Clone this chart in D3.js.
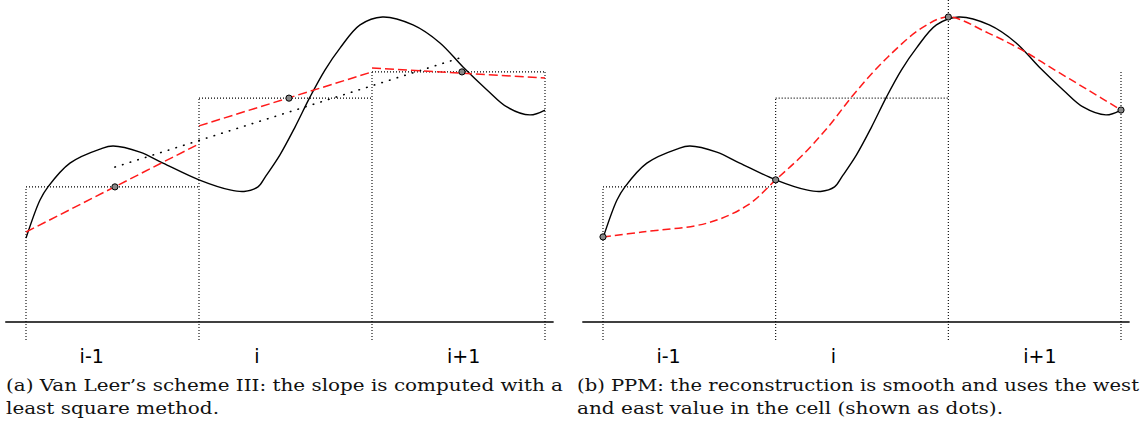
<!DOCTYPE html>
<html>
<head>
<meta charset="utf-8">
<script src="https://cdn.jsdelivr.net/npm/d3@7"></script>
<style>
  html, body { margin: 0; padding: 0; background: #fff; }
  svg { display: block; }
</style>
</head>
<body>
<svg id="chart" width="1147" height="429"></svg>
<script>
// ---------------- data ----------------
const cellLabels = ["i-1", "i", "i+1"];
const cellLabelPos = [0.38, 1.335, 2.53];          // label centres in cell units
const cellBounds = [0, 1, 2, 3];
const cellAverages = [0.443, 0.734, 0.820];

// the "true" solution (black solid curve)
const exactX = [0, 0.081, 0.127, 0.254, 0.428, 0.503, 0.659, 0.792, 1.0, 1.179, 1.260, 1.341, 1.387, 1.468, 1.555, 1.642, 1.728, 1.815, 1.931, 2.060, 2.237, 2.393, 2.526, 2.665, 2.780, 2.913, 3.0];
const exactY = [0.275, 0.400, 0.443, 0.521, 0.567, 0.577, 0.557, 0.521, 0.466, 0.433, 0.428, 0.443, 0.479, 0.548, 0.639, 0.738, 0.826, 0.898, 0.974, 1.0, 0.974, 0.915, 0.836, 0.761, 0.705, 0.679, 0.695];

// Van Leer III: linear reconstruction per cell (west / east values)
const vlWest = [0.295, 0.643, 0.833];
const vlEast = [0.584, 0.820, 0.800];
const vlDotX = [0.514, 1.520, 2.520];
const vlDotY = [0.443, 0.734, 0.820];
// least-square fit (black dotted)
const lsqX = [0.514, 2.526];
const lsqY = [0.508, 0.869];

// PPM reconstruction (red dashed, smooth)
const ppmX = [0, 0.226, 0.608, 0.840, 1.0, 1.152, 1.303, 1.459, 1.650, 1.847, 2.0, 2.229, 2.426, 2.617, 2.808, 3.0];
const ppmY = [0.279, 0.295, 0.325, 0.384, 0.466, 0.545, 0.639, 0.751, 0.869, 0.964, 1.0, 0.948, 0.892, 0.826, 0.761, 0.695];
const ppmDotX = [0, 1, 2, 3];
const ppmDotY = [0.279, 0.466, 1.0, 0.695];

const captionA = ["(a) Van Leer\u2019s scheme III: the slope is computed with a", "least square method."];
const captionB = ["(b) PPM: the reconstruction is smooth and uses the west", "and east value in the cell (shown as dots)."];

// ---------------- drawing ----------------
const svg = d3.select("#chart");
const y = d3.scaleLinear().domain([0, 1]).range([322, 17]);
const yBottom = -0.059, yTopExt = 1.06;
const axisExtent = [-0.12, 3.05];

const panels = [
  { x: d3.scaleLinear().domain([0, 3]).range([26, 545]), kind: "vl" },
  { x: d3.scaleLinear().domain([0, 3]).range([603, 1121]), kind: "ppm" }
];

const dotted = { stroke: "#000", width: 1.1, dash: "1,2" };
const line = d3.line().curve(d3.curveCatmullRom.alpha(0.5));

panels.forEach(p => {
  const g = svg.append("g");
  const x = p.x;

  // cell boxes (dotted)
  const vTops = cellBounds.map((b, k) => {
    if (p.kind === "ppm" && k === 2) return yTopExt;
    const left = k > 0 ? cellAverages[k - 1] : -Infinity;
    const right = k < cellAverages.length ? cellAverages[k] : -Infinity;
    return Math.max(left, right);
  });
  g.selectAll(".vb").data(cellBounds).enter().append("line")
    .attr("x1", d => x(d)).attr("x2", d => x(d))
    .attr("y1", y(yBottom)).attr("y2", (d, k) => y(vTops[k]))
    .attr("stroke", dotted.stroke).attr("stroke-width", dotted.width)
    .attr("stroke-dasharray", dotted.dash);
  const nTops = p.kind === "ppm" ? 2 : 3;
  g.selectAll(".hb").data(cellAverages.slice(0, nTops)).enter().append("line")
    .attr("x1", (d, k) => x(cellBounds[k])).attr("x2", (d, k) => x(cellBounds[k + 1]))
    .attr("y1", d => y(d)).attr("y2", d => y(d))
    .attr("stroke", dotted.stroke).attr("stroke-width", dotted.width)
    .attr("stroke-dasharray", dotted.dash);

  // axis line
  g.append("line")
    .attr("x1", x(axisExtent[0])).attr("x2", x(axisExtent[1]))
    .attr("y1", y(0)).attr("y2", y(0))
    .attr("stroke", "#000").attr("stroke-width", 1.5);

  // exact solution
  g.append("path")
    .attr("d", line(exactX.map((v, k) => [x(v), y(exactY[k])])))
    .attr("fill", "none").attr("stroke", "#000").attr("stroke-width", 1.4);

  if (p.kind === "vl") {
    g.append("line")
      .attr("x1", x(lsqX[0])).attr("y1", y(lsqY[0]))
      .attr("x2", x(lsqX[1])).attr("y2", y(lsqY[1]))
      .attr("stroke", "#000").attr("stroke-width", 1.6)
      .attr("stroke-linecap", "round")
      .attr("stroke-dasharray", "0.5,7.5");
    g.selectAll(".seg").data(vlWest).enter().append("line")
      .attr("x1", (d, k) => x(cellBounds[k])).attr("y1", d => y(d))
      .attr("x2", (d, k) => x(cellBounds[k + 1])).attr("y2", (d, k) => y(vlEast[k]))
      .attr("stroke", "#ff1a1a").attr("stroke-width", 1.5)
      .attr("stroke-dasharray", "9,4");
    g.selectAll(".dot").data(vlDotX).enter().append("circle")
      .attr("cx", d => x(d)).attr("cy", (d, k) => y(vlDotY[k]))
      .attr("r", 3.1).attr("fill", "#888").attr("stroke", "#000").attr("stroke-width", 1);
  } else {
    g.append("path")
      .attr("d", line(ppmX.map((v, k) => [x(v), y(ppmY[k])])))
      .attr("fill", "none").attr("stroke", "#ff1a1a").attr("stroke-width", 1.5)
      .attr("stroke-dasharray", "8,4");
    g.selectAll(".dot").data(ppmDotX).enter().append("circle")
      .attr("cx", d => x(d)).attr("cy", (d, k) => y(ppmDotY[k]))
      .attr("r", 3.1).attr("fill", "#888").attr("stroke", "#000").attr("stroke-width", 1);
  }

  // cell labels
  g.selectAll(".lab").data(cellLabels).enter().append("text")
    .attr("x", (d, k) => x(cellLabelPos[k])).attr("y", 363)
    .attr("text-anchor", "middle")
    .attr("font-family", "DejaVu Sans, sans-serif").attr("font-size", 19)
    .attr("fill", "#000")
    .text(d => d);
});

// captions
const capSpec = [
  { lines: captionA, x: 6, widths: [557, 213] },
  { lines: captionB, x: 577, widths: [562, 426] }
];
capSpec.forEach(c => {
  c.lines.forEach((t, k) => {
    svg.append("text")
      .attr("x", c.x).attr("y", 391 + k * 23)
      .attr("font-family", "DejaVu Serif, serif").attr("font-size", 16.5)
      .attr("fill", "#111")
      .attr("textLength", c.widths[k]).attr("lengthAdjust", "spacingAndGlyphs")
      .text(t);
  });
});
</script>
</body>
</html>
